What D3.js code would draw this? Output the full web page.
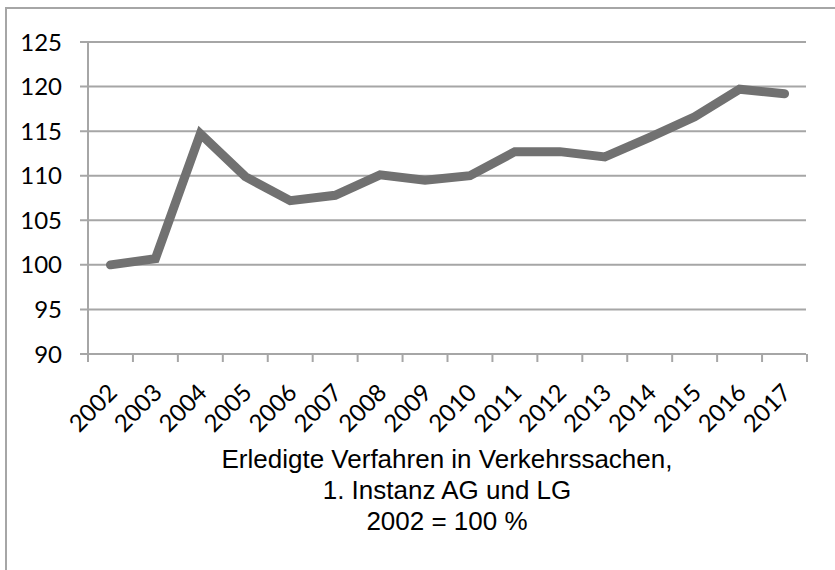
<!DOCTYPE html>
<html>
<head>
<meta charset="utf-8">
<script src="https://cdn.jsdelivr.net/npm/d3@7"></script>
<style>
  body { margin: 0; background: #fff; }
  svg { display: block; }
</style>
</head>
<body>
<svg width="835" height="570"></svg>
<script>
// data
const years = ["2002", "2003", "2004", "2005", "2006", "2007", "2008", "2009",
               "2010", "2011", "2012", "2013", "2014", "2015", "2016", "2017"];
const values = [100, 100.7, 114.7, 109.9, 107.2, 107.8, 110.1, 109.5,
                110.0, 112.7, 112.7, 112.1, 114.3, 116.6, 119.7, 119.2];
const yTicks = [90, 95, 100, 105, 110, 115, 120, 125];
const titleLines = ["Erledigte Verfahren in Verkehrssachen,", "1. Instanz AG und LG", "2002 = 100 %"];

const svg = d3.select("svg");

// outer frame (only left and top edge visible)
svg.append("path")
    .attr("d", "M6,570 V8 H835")
    .attr("fill", "none")
    .attr("stroke", "#a6a6a6")
    .attr("stroke-width", 2);

const plotLeft = 88, plotRight = 807, plotTop = 42, plotBottom = 354;

const x = d3.scaleBand()
    .domain(years)
    .range([plotLeft, plotRight]);

const y = d3.scaleLinear()
    .domain([90, 125])
    .range([plotBottom, plotTop]);

// gridlines
svg.append("g")
    .selectAll("line")
    .data(yTicks)
    .enter()
    .append("line")
    .attr("x1", plotLeft - 8)
    .attr("x2", plotRight - 1)
    .attr("y1", d => y(d))
    .attr("y2", d => y(d))
    .attr("stroke", "#a6a6a6")
    .attr("stroke-width", 2);

// y axis line
svg.append("line")
    .attr("x1", plotLeft).attr("x2", plotLeft)
    .attr("y1", plotTop).attr("y2", plotBottom)
    .attr("stroke", "#a6a6a6")
    .attr("stroke-width", 2);

const labelFont = "Lato, 'Open Sans', sans-serif";

// y labels
svg.append("g")
    .selectAll("text")
    .data(yTicks)
    .enter()
    .append("text")
    .attr("x", 62)
    .attr("y", d => y(d))
    .attr("dy", "0.36em")
    .attr("text-anchor", "end")
    .attr("font-family", labelFont)
    .attr("font-size", "24px")
    .attr("fill", "#000")
    .text(d => d);

// x ticks at category boundaries
const boundaries = years.map(d => x(d)).concat([plotRight]);
svg.append("g")
    .selectAll("line")
    .data(boundaries)
    .enter()
    .append("line")
    .attr("x1", d => d).attr("x2", d => d)
    .attr("y1", plotBottom).attr("y2", plotBottom + 8)
    .attr("stroke", "#a6a6a6")
    .attr("stroke-width", 2);

// x labels, rotated
svg.append("g")
    .selectAll("text")
    .data(years)
    .enter()
    .append("text")
    .attr("transform", d => `translate(${x(d) + x.bandwidth() / 2 + 2}, ${plotBottom + 34}) rotate(-45)`)
    .attr("dy", "0.36em")
    .attr("text-anchor", "end")
    .attr("font-family", labelFont)
    .attr("font-size", "24px")
    .attr("fill", "#000")
    .text(d => d);

// the line
const line = d3.line()
    .x((d, i) => x(years[i]) + x.bandwidth() / 2)
    .y(d => y(d));

svg.append("path")
    .datum(values)
    .attr("d", line)
    .attr("fill", "none")
    .attr("stroke", "#717171")
    .attr("stroke-width", 9)
    .attr("stroke-linejoin", "miter")
    .attr("stroke-linecap", "round");

// title below chart
svg.append("g")
    .selectAll("text")
    .data(titleLines)
    .enter()
    .append("text")
    .attr("x", 447)
    .attr("y", (d, i) => 468 + i * 31)
    .attr("text-anchor", "middle")
    .attr("font-family", "'Liberation Sans', Arial, sans-serif")
    .attr("font-size", "26px")
    .attr("fill", "#000")
    .text(d => d);
</script>
</body>
</html>
